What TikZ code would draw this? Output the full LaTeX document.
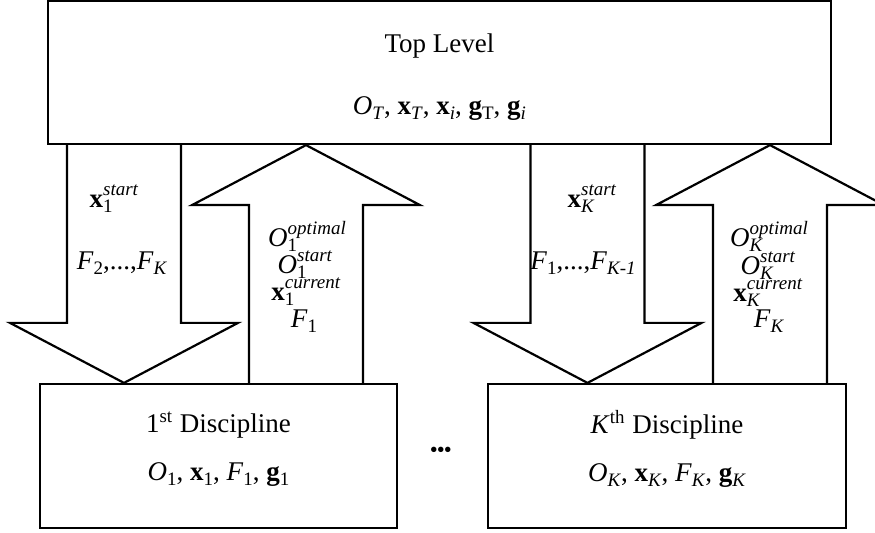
\documentclass[tikz,border=0pt]{standalone}
\usepackage{fontspec}
\setmainfont{Liberation Serif}
\usetikzlibrary{calc,positioning}
\tikzset{
  level/.style={draw,line width=1.1pt,inner sep=0pt},
  lbl/.style={inner sep=0pt,align=center,font=\fontsize{13.5}{16}\selectfont},
  fat/.style={line width=1.1pt,line join=miter},
}
\newcommand{\scr}{\fontsize{9.5}{11}\selectfont}
\newcommand{\vsub}[1]{\raisebox{-2.5pt}{\scr #1}}
\newcommand{\vboth}[2]{\rlap{\vsub{#1}}\raisebox{6.3pt}{\scr #2}}
% block arrow from #1 (start of shaft) to #2 (tip)
\newcommand{\fatarrow}[2]{%
  \coordinate (hb) at ($(#2)!30pt!(#1)$);
  \draw[fat] ($(#1)+(-28.5pt,0pt)$) -- ($(hb)+(-28.5pt,0pt)$) -- ($(hb)+(-57pt,0pt)$)
    -- (#2) -- ($(hb)+(57pt,0pt)$) -- ($(hb)+(28.5pt,0pt)$) -- ($(#1)+(28.5pt,0pt)$);
}

\begin{document}
\begin{tikzpicture}[x=0.5pt,y=-0.5pt]
  \useasboundingbox (0,0) rectangle (875,533);
  \clip (0,0) rectangle (875,533);

  % boxes
  \node[level,minimum width=391.5pt,minimum height=71.5pt] (top) at (439.5,72.5) {};
  \node[level,minimum width=178.5pt,minimum height=72pt] (d1) at (218.5,456) {};
  \node[level,minimum width=179pt,minimum height=72pt] (dK) at (667,456) {};

  \node[lbl] (toptxt) at ([yshift=-2.5pt]top.center) {Top Level\\[15pt]
    \textit{O}\vsub{\textit{T}}, \textbf{x}\vsub{\textit{T}}, \textbf{x}\vsub{\textit{i}},
    \textbf{g}\vsub{T}, \textbf{g}\vsub{\textit{i}}};
  \node[lbl] (d1txt) at ([yshift=3.5pt]d1.center) {1\textsuperscript{st} Discipline\\[8pt]
    \textit{O}\vsub{1}, \textbf{x}\vsub{1}, \textit{F}\vsub{1}, \textbf{g}\vsub{1}};
  \node[lbl] (dKtxt) at ([yshift=3.5pt]dK.center) {\textit{K}\textsuperscript{th} Discipline\\[8pt]
    \textit{O}\vsub{\textit{K}}, \textbf{x}\vsub{\textit{K}}, \textit{F}\vsub{\textit{K}}, \textbf{g}\vsub{\textit{K}}};
  \node[lbl,font=\fontsize{10}{12}\selectfont\bfseries] (dots) at (441,452) {\textbullet\textbullet\textbullet};

  % arrows
  \coordinate (c1) at (124,0);
  \coordinate (c2) at (306,0);
  \coordinate (c3) at (587.5,0);
  \coordinate (c4) at (770,0);
  \fatarrow{top.south -| c1}{d1.north -| c1}
  \fatarrow{d1.north -| c2}{top.south -| c2}
  \fatarrow{top.south -| c3}{dK.north -| c3}
  \fatarrow{dK.north -| c4}{top.south -| c4}

  % arrow labels
  \node[lbl,anchor=base] (x1s) at (114,208) {\textbf{x}\vboth{1}{\textit{start}}};
  \node[lbl,anchor=base] (f2k) at (122,270) {\textit{F}\vsub{2},...,\textit{F}\vsub{\textit{K}}};
  \node[lbl,anchor=base] (o1opt) at (307,247) {\textit{O}\vboth{1}{\textit{optimal}}};
  \node[lbl,anchor=base] (o1st) at (305,274) {\textit{O}\vboth{1}{\textit{start}}};
  \node[lbl,anchor=base] (x1cur) at (306,301) {\textbf{x}\vboth{1}{\textit{current}}};
  \node[lbl,anchor=base] (f1) at (304,328) {\textit{F}\vsub{1}};

  \node[lbl,anchor=base] (xKs) at (592,208) {\textbf{x}\vboth{\textit{K}}{\textit{start}}};
  \node[lbl,anchor=base] (f1k) at (583,270) {\textit{F}\vsub{1},...,\textit{F}\vsub{\textit{K-1}}};
  \node[lbl,anchor=base] (oKopt) at (769,247) {\textit{O}\vboth{\textit{K}}{\textit{optimal}}};
  \node[lbl,anchor=base] (oKst) at (768,275) {\textit{O}\vboth{\textit{K}}{\textit{start}}};
  \node[lbl,anchor=base] (xKcur) at (768,302) {\textbf{x}\vboth{\textit{K}}{\textit{current}}};
  \node[lbl,anchor=base] (fK) at (769,328) {\textit{F}\vsub{\textit{K}}};
\end{tikzpicture}
\end{document}
